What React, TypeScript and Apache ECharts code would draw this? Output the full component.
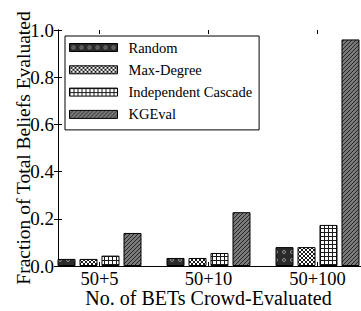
import React, { useEffect, useRef } from 'react';
import * as echarts from 'echarts';

const categories = ['50+5', '50+10', '50+100'];
const seriesNames = ['Random', 'Max-Degree', 'Independent Cascade', 'KGEval'];
const randomValues = [0.03, 0.034, 0.08];
const maxDegreeValues = [0.03, 0.034, 0.08];
const independentCascadeValues = [0.044, 0.055, 0.174];
const kgevalValues = [0.14, 0.228, 0.96];
const yTickValues = [0, 0.2, 0.4, 0.6, 0.8, 1.0];
const xTitle = 'No. of BETs Crowd-Evaluated';
const yTitle = 'Fraction of Total Beliefs Evaluated';

const FONT = 'Liberation Serif';

function tile(w: number, h: number, draw: (ctx: CanvasRenderingContext2D) => void) {
  const c = document.createElement('canvas');
  c.width = w;
  c.height = h;
  const ctx = c.getContext('2d') as CanvasRenderingContext2D;
  draw(ctx);
  return { image: c.toDataURL(), repeat: 'repeat', imageWidth: w, imageHeight: h };
}

function makePatterns() {
  const dots = tile(8, 8, (ctx) => {
    ctx.fillStyle = '#2a2a2a';
    ctx.fillRect(0, 0, 8, 8);
    ctx.strokeStyle = '#9a9a9a';
    ctx.lineWidth = 0.9;
    ctx.beginPath();
    ctx.arc(4, 4, 1.5, 0, Math.PI * 2);
    ctx.stroke();
  });
  const cross = tile(4, 4, (ctx) => {
    ctx.fillStyle = '#ffffff';
    ctx.fillRect(0, 0, 4, 4);
    ctx.fillStyle = '#1a1a1a';
    for (let i = 0; i < 4; i++) {
      ctx.fillRect(i, i, 1, 1);
      ctx.fillRect(3 - i, i, 1, 1);
    }
  });
  const grid = tile(4, 4, (ctx) => {
    ctx.fillStyle = '#ffffff';
    ctx.fillRect(0, 0, 4, 4);
    ctx.fillStyle = '#1a1a1a';
    ctx.fillRect(0, 0, 4, 1);
    ctx.fillRect(0, 0, 1, 4);
  });
  const hatch = tile(4, 4, (ctx) => {
    ctx.fillStyle = '#7a7a7a';
    ctx.fillRect(0, 0, 4, 4);
    ctx.fillStyle = '#262626';
    for (let i = 0; i < 4; i++) {
      ctx.fillRect(3 - i, i, 1, 1);
    }
  });
  return [dots, cross, grid, hatch];
}

export default function App() {
  const ref = useRef<HTMLDivElement>(null);
  useEffect(() => {
    if (!ref.current) return;
    const chart = echarts.init(ref.current, undefined, { renderer: 'svg' });
    const patterns = makePatterns();
    const values = [randomValues, maxDegreeValues, independentCascadeValues, kgevalValues];
    const axisLine = { show: true, lineStyle: { color: '#000', width: 1 } };
    const option: any = {
      animation: false,
      backgroundColor: '#fff',
      textStyle: { fontFamily: FONT, color: '#000' },
      grid: [
        { left: 58, top: 30, right: -30, bottom: 45, containLabel: false, outerBoundsMode: 'none' },
        { left: 45, top: 30, right: -11, bottom: 45, containLabel: false, outerBoundsMode: 'none' },
      ],
      legend: {
        orient: 'vertical',
        left: 65,
        top: 36,
        padding: [4, 7, 8, 4],
        itemGap: 7.3,
        itemWidth: 48,
        itemHeight: 8,
        icon: 'rect',
        borderColor: '#000',
        borderWidth: 1,
        backgroundColor: '#fff',
        itemStyle: { borderColor: '#000', borderWidth: 1 },
        textStyle: { fontFamily: FONT, fontSize: 14.5, color: '#000', lineHeight: 14, padding: [0, 0, 0, 6] },
        data: seriesNames,
      },
      xAxis: [
        {
          gridIndex: 0, type: 'value', position: 'bottom', min: 0, max: 1,
          axisLine, axisTick: { show: false }, axisLabel: { show: false }, splitLine: { show: false },
        },
        {
          gridIndex: 0, type: 'value', position: 'top', min: 0, max: 1,
          axisLine, axisTick: { show: false }, axisLabel: { show: false }, splitLine: { show: false },
        },
        {
          gridIndex: 1, type: 'category', position: 'bottom', data: categories,
          axisLine: { show: false },
          axisTick: { show: true, inside: true, alignWithLabel: true, length: 4, lineStyle: { color: '#000' } },
          axisLabel: { fontFamily: FONT, fontSize: 18.5, lineHeight: 15, color: '#000', margin: 5 },
          splitLine: { show: false },
          name: xTitle, nameLocation: 'middle', nameGap: 23, nameMoveOverlap: false,
          nameTextStyle: { fontFamily: FONT, fontSize: 20, lineHeight: 17, color: '#000' },
        },
        {
          gridIndex: 1, type: 'category', position: 'top', data: categories,
          axisLine: { show: false },
          axisTick: { show: true, inside: true, alignWithLabel: true, length: 4, lineStyle: { color: '#000' } },
          axisLabel: { show: false }, splitLine: { show: false },
        },
      ],
      yAxis: [
        {
          gridIndex: 0, type: 'value', position: 'left', min: yTickValues[0], max: yTickValues[yTickValues.length - 1], interval: 0.2,
          axisLine,
          axisTick: { show: true, inside: true, length: 4, lineStyle: { color: '#000' } },
          axisLabel: { fontFamily: FONT, fontSize: 19, color: '#000', margin: 4, formatter: (v: number) => v.toFixed(1) },
          splitLine: { show: false },
          name: yTitle, nameLocation: 'middle', nameGap: 25, nameMoveOverlap: false,
          nameTextStyle: { fontFamily: FONT, fontSize: 19.5, color: '#000' },
        },
        {
          gridIndex: 0, type: 'value', position: 'right', min: 0, max: 1, interval: 0.2,
          axisLine, axisTick: { show: true, inside: true, length: 4 }, axisLabel: { show: false }, splitLine: { show: false },
        },
        {
          gridIndex: 1, type: 'value', min: 0, max: 1, show: false, splitLine: { show: false },
        },
      ],
      series: seriesNames.map((name, i) => ({
        name,
        type: 'bar',
        xAxisIndex: 2,
        yAxisIndex: 2,
        barWidth: 18,
        barGap: '22.2%',
        data: values[i],
        itemStyle: { color: patterns[i], borderColor: '#000', borderWidth: 1 },
      })),
    };
    chart.setOption(option);
    return () => chart.dispose();
  }, []);
  return (
    <div
      ref={ref}
      style={{ position: 'fixed', left: 0, top: 0, width: 361, height: 311, background: '#fff' }}
    />
  );
}
